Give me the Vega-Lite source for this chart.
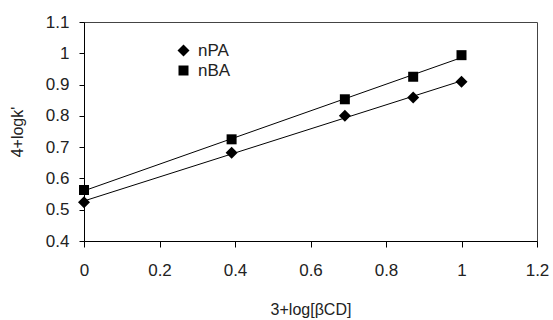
{
  "$schema": "https://vega.github.io/schema/vega-lite/v6.json",
  "width": 453,
  "height": 219,
  "autosize": {"type": "none"},
  "padding": {"left": 84, "top": 22, "right": 16, "bottom": 79},
  "background": "white",
  "config": {
    "font": "Liberation Sans",
    "view": {"stroke": "#444444", "strokeWidth": 1},
    "axis": {
      "grid": false,
      "domainColor": "black",
      "tickColor": "black",
      "labelColor": "#222222",
      "titleColor": "#222222",
      "labelFont": "Liberation Sans",
      "titleFont": "Liberation Sans",
      "labelFontSize": 17,
      "titleFontSize": 16,
      "titleFontWeight": "normal",
      "labelOverlap": false,
      "labelFlush": false
    }
  },
  "data": {
    "values": [
      {"series": "nPA", "x": 0, "y": 0.524},
      {"series": "nPA", "x": 0.391, "y": 0.682},
      {"series": "nPA", "x": 0.691, "y": 0.800},
      {"series": "nPA", "x": 0.872, "y": 0.859},
      {"series": "nPA", "x": 1.0, "y": 0.909},
      {"series": "nBA", "x": 0, "y": 0.563},
      {"series": "nBA", "x": 0.391, "y": 0.725},
      {"series": "nBA", "x": 0.691, "y": 0.853},
      {"series": "nBA", "x": 0.872, "y": 0.925},
      {"series": "nBA", "x": 1.0, "y": 0.994}
    ]
  },
  "encoding": {
    "x": {"field": "x", "type": "quantitative", "scale": {"domain": [0, 1.2], "nice": false, "zero": false},
          "axis": {"values": [0, 0.2, 0.4, 0.6, 0.8, 1, 1.2], "format": "~g", "title": "3+log[βCD]", "tickSize": 6, "labelPadding": 15, "titlePadding": 23, "labelOverlap": false, "labelFlush": false}},
    "y": {"field": "y", "type": "quantitative", "scale": {"domain": [0.4, 1.1], "nice": false, "zero": false},
          "axis": {"values": [0.4, 0.5, 0.6, 0.7, 0.8, 0.9, 1, 1.1], "format": "~g", "title": "4+logk'", "tickSize": 5, "labelPadding": 10, "titlePadding": 20, "labelOverlap": false, "labelFlush": false}}
  },
  "layer": [
    {
      "transform": [{"regression": "y", "on": "x", "groupby": ["series"], "method": "linear"}],
      "mark": {"type": "line", "color": "black", "strokeWidth": 1},
      "encoding": {
        "detail": {"field": "series"}
      }
    },
    {
      "mark": {"type": "point", "filled": true, "size": 100, "color": "black", "opacity": 1},
      "encoding": {
        "shape": {
          "field": "series",
          "type": "nominal",
          "scale": {"domain": ["nPA", "nBA"], "range": ["M-1.2,0L0,-1.2L1.2,0L0,1.2Z", "square"]},
          "legend": {
            "title": null,
            "orient": "none",
            "legendX": 91,
            "legendY": 20,
            "labelFontSize": 17,
            "labelFont": "Liberation Sans",
            "labelColor": "#222222",
            "symbolSize": 100,
            "symbolFillColor": "black",
            "symbolStrokeColor": "black",
            "symbolOpacity": 1,
            "rowPadding": 1,
            "labelOffset": 6
          }
        }
      }
    }
  ]
}
